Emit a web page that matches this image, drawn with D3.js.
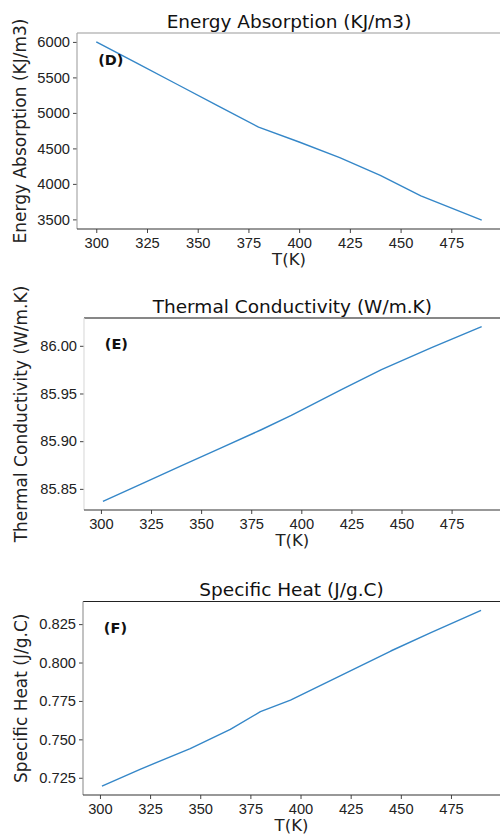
<!DOCTYPE html>
<html>
<head>
<meta charset="utf-8">
<script src="https://cdn.jsdelivr.net/npm/d3@7"></script>
<style>
  html, body { margin: 0; padding: 0; background: #fff; }
  svg { display: block; font-family: "DejaVu Sans", sans-serif; }
</style>
</head>
<body>
<svg id="chart" width="500" height="835"></svg>
<script>
// ---- data ----
const xTickValues = [300, 325, 350, 375, 400, 425, 450, 475];

const tempD = [300, 320, 340, 360, 380, 400, 420, 440, 460, 490];
const energyAbsorption = [6000, 5700, 5400, 5100, 4800, 4590, 4370, 4120, 3830, 3490];
const yTicksD = [3500, 4000, 4500, 5000, 5500, 6000];

const tempE = [301, 320, 340, 360, 380, 395, 420, 440, 465, 490];
const thermalConductivity = [85.837, 85.855, 85.874, 85.893, 85.912, 85.927, 85.954, 85.975, 85.998, 86.020];
const yTicksE = [85.85, 85.90, 85.95, 86.00];

const tempF = [301, 320, 345, 365, 380, 395, 420, 445, 465, 490];
const specificHeat = [0.7195, 0.7305, 0.744, 0.7565, 0.768, 0.7755, 0.7915, 0.8075, 0.8195, 0.834];
const yTicksF = [0.725, 0.750, 0.775, 0.800, 0.825];

const titles = ["Energy Absorption (KJ/m3)", "Thermal Conductivity (W/m.K)", "Specific Heat (J/g.C)"];
const yLabels = ["Energy Absorption (KJ/m3)", "Thermal Conductivity (W/m.K)", "Specific Heat (J/g.C)"];
const tags = ["(D)", "(E)", "(F)"];
const xLabel = "T(K)";

// ---- layout ----
const panels = [
  { x: tempD, y: energyAbsorption, yTicks: yTicksD, fmt: d3.format("d"),
    left: 77, right: 501, top: 33, bottom: 229, ylabX: 25.5,
    spineTop: "#9a9a9a", spineLeft: "#a8a8a8" },
  { x: tempE, y: thermalConductivity, yTicks: yTicksE, fmt: d3.format(".2f"),
    left: 84, right: 500.6, top: 318, bottom: 510, ylabX: 27,
    spineTop: "#111", spineLeft: "#dddddd" },
  { x: tempF, y: specificHeat, yTicks: yTicksF, fmt: d3.format(".3f"),
    left: 83, right: 500, top: 601.5, bottom: 795, ylabX: 27,
    spineTop: "#222", spineLeft: "#999" }
];

const svg = d3.select("#chart");
svg.append("rect").attr("width", 500).attr("height", 835).attr("fill", "#fff");

function padded(ext) {
  const m = (ext[1] - ext[0]) * 0.05;
  return [ext[0] - m, ext[1] + m];
}

panels.forEach((p, i) => {
  const xs = d3.scaleLinear().domain(padded(d3.extent(p.x))).range([p.left, p.right]);
  const ys = d3.scaleLinear().domain(padded(d3.extent(p.y))).range([p.bottom, p.top]);
  const g = svg.append("g");

  // y axis
  const ya = g.append("g").attr("transform", `translate(${p.left},0)`)
    .call(d3.axisLeft(ys).tickValues(p.yTicks).tickFormat(p.fmt).tickSize(4).tickPadding(3));
  ya.select(".domain").remove();
  ya.selectAll("line").attr("stroke", "#444").attr("stroke-width", 1);
  ya.selectAll("text").attr("fill", "#222").style("font-size", "14.7px");

  // x axis
  const xa = g.append("g").attr("transform", `translate(0,${p.bottom})`)
    .call(d3.axisBottom(xs).tickValues(xTickValues).tickFormat(d3.format("d")).tickSize(4).tickPadding(4.6));
  xa.select(".domain").remove();
  xa.selectAll("line").attr("stroke", "#444").attr("stroke-width", 1);
  xa.selectAll("text").attr("fill", "#222").style("font-size", "14.7px");

  // spines
  g.append("line").attr("x1", p.left).attr("x2", p.right).attr("y1", p.top).attr("y2", p.top)
    .attr("stroke", p.spineTop).attr("stroke-width", 1.2);
  g.append("line").attr("x1", p.left).attr("x2", p.left).attr("y1", p.top).attr("y2", p.bottom)
    .attr("stroke", p.spineLeft).attr("stroke-width", 1.2);
  g.append("line").attr("x1", p.left).attr("x2", p.right).attr("y1", p.bottom).attr("y2", p.bottom)
    .attr("stroke", "#333").attr("stroke-width", 1.2);

  // data line
  const pts = p.x.map((d, k) => [d, p.y[k]]);
  g.append("path").datum(pts)
    .attr("fill", "none").attr("stroke", "#3587c8").attr("stroke-width", 1.4)
    .attr("stroke-linejoin", "round")
    .attr("d", d3.line().x(d => xs(d[0])).y(d => ys(d[1])));

  // title
  g.append("text").attr("x", (p.left + p.right) / 2).attr("y", p.top - 5.5)
    .attr("text-anchor", "middle").attr("fill", "#111").style("font-size", "18.5px")
    .text(titles[i]);

  // x label
  g.append("text").attr("x", (p.left + p.right) / 2).attr("y", p.bottom + 36)
    .attr("text-anchor", "middle").attr("fill", "#222").style("font-size", "16.5px")
    .text(xLabel);

  // y label
  g.append("text")
    .attr("transform", `translate(${p.ylabX},${(p.top + p.bottom) / 2}) rotate(-90)`)
    .attr("text-anchor", "middle").attr("fill", "#222").style("font-size", "17px")
    .text(yLabels[i]);

  // panel tag
  g.append("text")
    .attr("x", p.left + (p.right - p.left) * 0.05)
    .attr("y", p.bottom - (p.bottom - p.top) * 0.838)
    .attr("fill", "#111").style("font-size", "14.5px").style("font-weight", "bold")
    .text(tags[i]);
});
</script>
</body>
</html>
